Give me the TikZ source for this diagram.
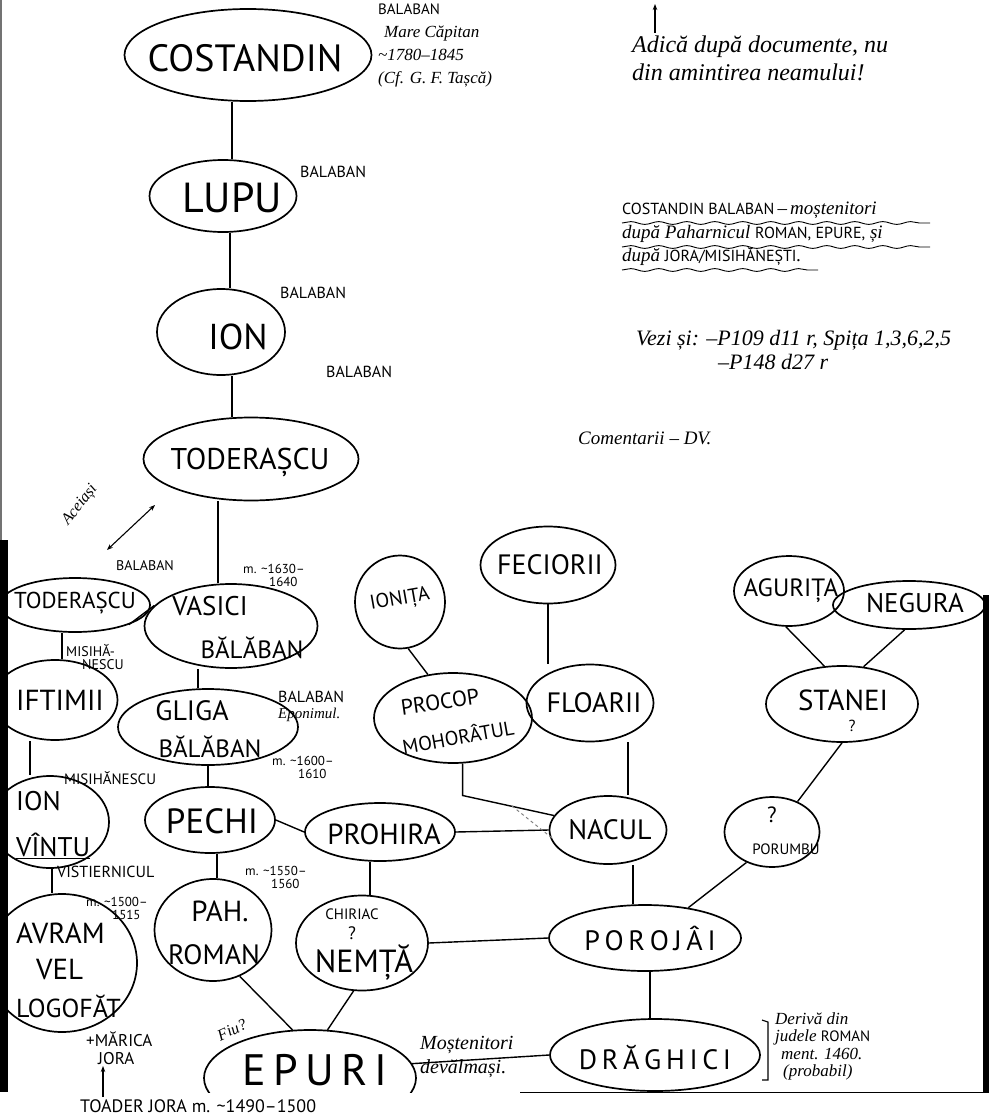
\documentclass[tikz,border=0pt]{standalone}
\usepackage{fontspec}
\setmainfont{Liberation Serif}
\newfontfamily\handf{PT Sans}
\usetikzlibrary{shapes.geometric,decorations.pathmorphing,arrows.meta}
\newcommand{\hf}[2]{\handf\upshape\fontsize{#1}{#2}\selectfont}
\newcommand{\cf}[2]{\rmfamily\itshape\fontsize{#1}{#2}\selectfont}
\newcommand{\tl}{\textasciitilde}
\begin{document}
\begin{tikzpicture}[x=1pt,y=-1pt,
  pers/.style={ellipse, draw, line width=1.7pt, inner sep=0pt},
  nm/.style={inner sep=0pt, align=center},
  link/.style={line width=1.4pt},
  lab/.style={inner sep=0pt, align=left, font=\hf{13}{13}},
  cur/.style={inner sep=0pt, align=left, font=\cf{16}{19}},
  wavy/.style={line width=0.9pt, decorate, decoration={snake, amplitude=1.4pt, segment length=28pt}}]
\useasboundingbox (0,0) rectangle (989,1116);
\fill[white] (0,0) rectangle (989,1116);
% scan edges
\fill[black!55] (0,0) rectangle (2,540);
\fill[black] (0,540) rectangle (8,1092);
\fill[black] (983,595) rectangle (989,1092);
\draw[line width=0.8pt] (520,1092) -- (989,1092);

% ---------- persons ----------
\node[pers, minimum width=247pt, minimum height=92pt] (costandin) at (248,55) {};
\node[nm, font=\hf{38}{42}] (costandin-t) at (245,58) {COSTANDIN};
\node[pers, minimum width=147pt, minimum height=72pt] (lupu) at (223,196) {};
\node[nm, font=\hf{42}{46}] (lupu-t) at (232,198) {LUPU};
\node[pers, minimum width=128pt, minimum height=86pt] (ion) at (221,332) {};
\node[nm, font=\hf{36}{40}] (ion-t) at (238,337) {ION};
\node[pers, minimum width=215pt, minimum height=83pt] (toder) at (251,459) {};
\node[nm, font=\hf{30}{34}] (toder-t) at (250,462) {TODERAȘCU};
\node[pers, minimum width=150pt, minimum height=54pt] (todl) at (75,605) {};
\node[nm, font=\hf{23}{25}] (todl-t) at (75,603) {TODERAȘCU};
\node[pers, minimum width=173pt, minimum height=84pt] (vasici) at (231,626) {};
\node[nm, font=\hf{27}{29}] (vasici-t1) at (210,606) {VASICI};
\node[nm, font=\hf{25}{27}] (vasici-t2) at (252,648) {BĂLĂBAN};
\node[pers, minimum width=125pt, minimum height=80pt] (iftimii) at (55,700) {};
\node[nm, font=\hf{29}{31}] (iftimii-t) at (60,700) {IFTIMII};
\node[pers, minimum width=180pt, minimum height=76pt] (gliga) at (208,727) {};
\node[nm, font=\hf{28}{30}] (gliga-t1) at (192,711) {GLIGA};
\node[nm, font=\hf{25}{27}] (gliga-t2) at (210,747) {BĂLĂBAN};
\node[pers, minimum width=118pt, minimum height=92pt] (vintu) at (50,822) {};
\node[nm, font=\hf{27}{29}, anchor=west] (vintu-t1) at (16,801) {ION};
\node[nm, font=\hf{27}{29}, anchor=west] (vintu-t2) at (16,846) {\underline{VÎNTU}};
\node[pers, minimum width=130pt, minimum height=66pt] (pechi) at (210,820) {};
\node[nm, font=\hf{35}{37}] (pechi-t) at (212,821) {PECHI};
\node[pers, minimum width=150pt, minimum height=58pt] (prohira) at (380,832) {};
\node[nm, font=\hf{29}{31}] (prohira-t) at (384,834) {PROHIRA};
\node[pers, minimum width=117pt, minimum height=68pt] (nacul) at (608,830) {};
\node[nm, font=\hf{28}{30}] (nacul-t) at (610,830) {NACUL};
\node[pers, minimum width=95pt, minimum height=70pt] (porumbu) at (772,832) {};
\node[nm, font=\hf{22}{24}] (porumbu-q) at (772,815) {?};
\node[nm, font=\hf{15}{17}] (porumbu-t) at (786,849) {PORUMBU};
\node[pers, minimum width=150pt, minimum height=138pt] (avram) at (62,963) {};
\node[nm, font=\hf{29}{31}, anchor=west] (avram-t1) at (16,933) {AVRAM};
\node[nm, font=\hf{29}{31}, anchor=west] (avram-t2) at (36,969) {VEL};
\node[nm, font=\hf{26}{28}, anchor=west] (avram-t3) at (16,1006) {LOGOFĂT};
\node[pers, minimum width=117pt, minimum height=102pt] (pah) at (213,930) {};
\node[nm, font=\hf{29}{31}] (pah-t1) at (220,911) {PAH.};
\node[nm, font=\hf{28}{30}] (pah-t2) at (214,955) {ROMAN};
\node[pers, minimum width=132pt, minimum height=95pt] (nemta) at (362,943) {};
\node[nm, font=\hf{15}{17}] (nemta-c) at (352,914) {CHIRIAC};
\node[nm, font=\hf{18}{20}] (nemta-q) at (352,933) {?};
\node[nm, font=\hf{32}{34}] (nemta-t) at (364,962) {NEMȚĂ};
\node[pers, minimum width=192pt, minimum height=66pt] (porojai) at (645,938) {};
\node[nm, font=\hf{28}{30}] (porojai-t) at (650,938) {P\,O\,R\,O\,J\,Â\,I};
\node[pers, draw=none, minimum width=212pt, minimum height=96pt] (epuri) at (310,1078) {};
\begin{scope}
  \clip (0,0) rectangle (989,1092);
  \draw[line width=1.7pt] (epuri.center) ellipse [x radius=106, y radius=48];
\end{scope}
\node[nm, font=\hf{44}{46}] (epuri-t) at (315,1070) {E\,P\,U\,R\,I};
\node[pers, minimum width=210pt, minimum height=72pt] (draghici) at (655,1055) {};
\node[nm, font=\hf{28}{30}] (draghici-t) at (655,1057) {D\,R\,Ă\,G\,H\,I\,C\,I};
\node[pers, minimum width=90pt, minimum height=93pt] (ionita) at (400,602) {};
\node[nm, font=\hf{20}{22}, rotate=10] (ionita-t) at (400,600) {IONIȚA};
\node[pers, minimum width=135pt, minimum height=77pt] (feciorii) at (548,565) {};
\node[nm, font=\hf{28}{30}] (feciorii-t) at (550,565) {FECIORII};
\node[pers, minimum width=158pt, minimum height=90pt] (procop) at (453,718) {};
\node[nm, font=\hf{22}{24}, rotate=8] (procop-t1) at (440,702) {PROCOP};
\node[nm, font=\hf{20}{22}, rotate=10] (procop-t2) at (458,736) {MOHORÂTUL};
\node[pers, minimum width=127pt, minimum height=77pt] (floarii) at (590,703) {};
\node[nm, font=\hf{28}{30}] (floarii-t) at (594,703) {FLOARII};
\node[pers, minimum width=110pt, minimum height=70pt] (agurita) at (789,591) {};
\node[nm, font=\hf{25}{27}] (agurita-t) at (791,591) {AGURIȚA};
\node[pers, minimum width=152pt, minimum height=48pt] (negura) at (909,605) {};
\node[nm, font=\hf{27}{29}] (negura-t) at (915,603) {NEGURA};
\node[pers, minimum width=152pt, minimum height=76pt] (stanei) at (842,704) {};
\node[nm, font=\hf{29}{31}] (stanei-t) at (843,700) {STANEI};
\node[nm, font=\hf{16}{18}] (stanei-q) at (852,726) {?};

% ---------- connectors ----------
\draw[link] ([xshift=9pt]lupu.north) -- ([xshift=9pt]lupu.north |- costandin.south);
\draw[link] ([xshift=9pt]ion.north) -- ([xshift=9pt]ion.north |- lupu.south);
\draw[link] ([xshift=-19pt]toder.north) -- ([xshift=-19pt]toder.north |- ion.south);
\draw[link] ([xshift=-13pt]vasici.north) -- ([xshift=-13pt]vasici.north |- toder.south);
\draw[link] ([xshift=-10pt]gliga.north) -- ([xshift=-10pt]gliga.north |- vasici.south);
\draw[link] ([xshift=-2pt]pechi.north) -- ([xshift=-2pt]pechi.north |- gliga.south);
\draw[link] ([xshift=4pt]pah.north) -- ([xshift=4pt]pah.north |- pechi.south);
\draw[link] ([xshift=7pt]iftimii.north) -- ([xshift=7pt]iftimii.north |- todl.south);
\draw[link] ([xshift=-20pt]vintu.north) -- ([xshift=-20pt]vintu.north |- iftimii.south);
\draw[link] ([xshift=-10pt]avram.north) -- ([xshift=-10pt]avram.north |- vintu.south);
\draw[link] ([xshift=8pt]nemta.north) -- ([xshift=8pt]nemta.north |- prohira.south);
\draw[link] ([xshift=-12pt]porojai.north) -- ([xshift=-12pt]porojai.north |- nacul.south);
\draw[link] ([xshift=20pt]nacul.north) -- ([xshift=20pt]nacul.north |- floarii.south);
\draw[link] ([xshift=-42pt]floarii.north) -- ([xshift=-42pt]floarii.north |- feciorii.south);
\draw[link] ([xshift=-5pt]draghici.north) -- ([xshift=-5pt]draghici.north |- porojai.south);
\draw[link] (todl.-20) -- (vasici.165);
\draw[link] (pechi.east) -- (prohira.west);
\draw[link] (prohira.east) -- (nacul.west);
\draw[link] (nemta.east) -- (porojai.west);
\draw[link] (epuri.8) -- (draghici.west);
\draw[link] (pah.-60) -- (epuri.110);
\draw[link] (nemta.-100) -- (epuri.70);
\draw[link] (ionita.-80) -- (procop.120);
\draw[link] (agurita.-95) -- (stanei.115);
\draw[link] (negura.-100) -- (stanei.60);
\draw[link] (stanei.-90) -- (porumbu.50);
\draw[link] (porumbu.-130) -- (porojai.35);
\draw[link] (procop.-78) -- ++(0,32) -- (nacul.165);
\coordinate (dashA) at (512,806);
\coordinate (dashB) at (552,838);
\draw[gray, dashed, line width=1pt] (dashA) -- (dashB);

% ---------- labels ----------
\node[cur, anchor=north west, font=\cf{17}{23}] (l-cost) at (378,4) {{\hf{15}{17}BALABAN}\\\hspace{6pt}Mare Căpitan\\\tl1780–1845\\(Cf. G. F. Tașcă)};
\node[lab, anchor=west, font=\hf{16}{16}] (l-lupu) at (300,172) {BALABAN};
\node[lab, anchor=west, font=\hf{16}{16}] (l-ion) at (280,293) {BALABAN};
\node[lab, anchor=west, font=\hf{16}{16}] (l-toder) at (326,372) {BALABAN};
\node[lab, anchor=west, font=\hf{14}{14}] (l-todl) at (116,566) {BALABAN};
\node[lab, anchor=north west] (l-m1630) at (243,564) {m. \tl1630–\\\hspace{26pt}1640};
\node[lab, anchor=north west, font=\hf{14}{13}] (l-mis1) at (66,644) {MISIHĂ-\\\hspace{16pt}NESCU};
\node[lab, anchor=north west, font=\cf{15}{16}] (l-epon) at (278,691) {{\hf{16}{16}BALABAN}\\Eponimul.};
\node[lab, anchor=north west] (l-m1600) at (272,756) {m. \tl1600–\\\hspace{26pt}1610};
\node[lab, anchor=west, font=\hf{15}{15}] (l-mis2) at (64,778) {MISIHĂNESCU};
\node[lab, anchor=west, font=\hf{16}{16}] (l-vist) at (57,872) {VISTIERNICUL};
\node[lab, anchor=north west] (l-m1550) at (245,866) {m. \tl1550–\\\hspace{26pt}1560};
\node[lab, anchor=north west] (l-m1500) at (86,897) {m. \tl1500–\\\hspace{26pt}1515};
\node[cur, rotate=25, font=\cf{16}{18}] (l-fiu) at (232,1030) {Fiu?};
\node[lab, anchor=north west, font=\hf{17}{18}] (l-marica) at (86,1031) {+MĂRICA\\\hspace{12pt}JORA};
\node[lab, anchor=west, font=\hf{18}{18}] (l-toader) at (80,1106) {TOADER JORA m. \tl1490–1500};
\coordinate (arrJ1) at (103,1097);
\coordinate (arrJ2) at (103,1066);
\draw[line width=1.2pt, -{Stealth[length=6pt]}] (arrJ1) -- (arrJ2);
\node[cur, anchor=north west, font=\cf{20}{24}] (l-most) at (420,1036) {Moștenitori\\devălmași.};
\coordinate (brA) at (762,1020);
\coordinate (brB) at (762,1080);
\draw[line width=1.1pt] (brA) -- ++(6,2) -- ++(0,58) -- (brB);
\node[cur, anchor=north west, font=\cf{17}{17.5}] (l-deriva) at (775,1012) {Derivă din\\judele {\hf{15}{15}ROMAN}\\\hspace{6pt}ment. 1460.\\\hspace{8pt}(probabil)};

\coordinate (arrT1) at (655,33);
\coordinate (arrT2) at (655,4);
\draw[line width=1.2pt, -{Stealth[length=6pt]}] (arrT1) -- (arrT2);
\node[cur, anchor=north west, font=\cf{24}{28}] (l-adica) at (632,36) {Adică după documente, nu\\din amintirea neamului!};

\node[cur, anchor=west, font=\cf{19}{21}] (l-blk1) at (622,210) {{\hf{16}{18}COSTANDIN BALABAN}\,–\,moștenitori};
\node[cur, anchor=west, font=\cf{19}{21}] (l-blk2) at (622,234) {după Paharnicul {\hf{16}{18}ROMAN, EPURE,} și};
\node[cur, anchor=west, font=\cf{19}{21}] (l-blk3) at (622,257) {după {\hf{16}{18}JORA/MISIHĂNEȘTI}.};
\coordinate (w1a) at (622,223); \coordinate (w1b) at (930,223);
\coordinate (w2a) at (622,247); \coordinate (w2b) at (930,247);
\coordinate (w3a) at (622,270); \coordinate (w3b) at (818,270);
\draw[wavy] (w1a) -- (w1b);
\draw[wavy] (w2a) -- (w2b);
\draw[wavy] (w3a) -- (w3b);

\node[cur, anchor=west, font=\cf{22}{24}] (l-vezi1) at (636,340) {Vezi și: –P109 d11 r, Spița 1,3,6,2,5};
\node[cur, anchor=west, font=\cf{22}{24}] (l-vezi2) at (718,362) {–P148 d27 r};
\node[cur, anchor=west, font=\cf{19}{21}] (l-coment) at (578,438) {Comentarii – DV.};

\coordinate (acA) at (107,550);
\coordinate (acB) at (155,505);
\draw[line width=1.1pt, {Stealth[length=6pt]}-{Stealth[length=6pt]}] (acA) -- (acB);
\node[cur, rotate=52, font=\cf{16}{18}] (l-aceiasi) at (80,505) {Aceiași};
\end{tikzpicture}
\end{document}
